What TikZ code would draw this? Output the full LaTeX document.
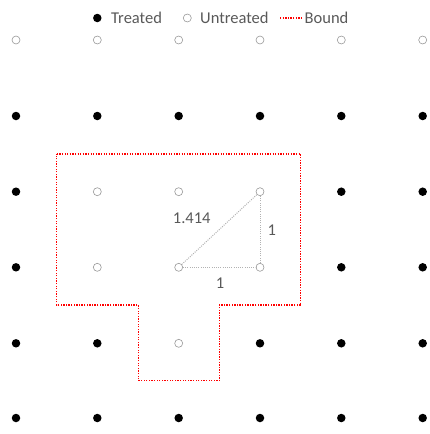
\documentclass[tikz,border=0pt]{standalone}
\usepackage{fontspec}
\setmainfont{Carlito}
\begin{document}
\begin{tikzpicture}[x=1pt,y=-1pt,
  treated/.style={circle,fill=black,inner sep=0pt,minimum size=8.5pt},
  untreated/.style={circle,draw=gray!80,line width=0.6pt,fill=white,inner sep=0pt,minimum size=8pt},
  bound/.style={draw=red,line width=1.3pt,dash pattern=on 1.3pt off 1.3pt},
  dist/.style={draw=gray!60,line width=1pt,dash pattern=on 1pt off 1.2pt},
  lbl/.style={text=black!65,font=\fontsize{16.5}{19}\selectfont,inner sep=1pt}]
\useasboundingbox (0,0) rectangle (429,434);
% bound
\draw[bound] (56.7,154) -- (300.7,154) -- (300.7,305) -- (219.3,305) -- (219.3,380.7)
  -- (138.3,380.7) -- (138.3,305) -- (56.7,305) -- cycle;
% grid
\def\xs{{16,97.3,178.7,260,341.3,422.7}}
\def\ys{{40,116,191.7,267.3,343.3,418}}
\def\fl{{0,0,0,0,0,0,1,1,1,1,1,1,1,0,0,0,1,1,1,0,0,0,1,1,1,1,0,1,1,1,1,1,1,1,1,1}}
\foreach \r in {1,...,6}{
  \foreach \c in {1,...,6}{
    \pgfmathsetmacro{\px}{\xs[\c-1]}
    \pgfmathsetmacro{\py}{\ys[\r-1]}
    \pgfmathtruncatemacro{\bit}{\fl[(\r-1)*6+\c-1]}
    \ifnum\bit=1
      \node[treated] (p\r\c) at (\px,\py) {};
    \else
      \node[untreated] (p\r\c) at (\px,\py) {};
    \fi
  }
}
% distance triangle
\draw[dist] (p43) -- (p44);
\draw[dist] (p44) -- (p34);
\draw[dist] (p43) -- (p34);
\node[lbl] (d1) at (191.7,218.3) {1.414};
\node[lbl] (d2) at (271.7,230) {1};
\node[lbl] (d3) at (220,283.3) {1};
% legend
\node[treated] (lt) at (97.3,18) {};
\node[lbl,anchor=west] (ltt) at (110,18) {Treated};
\node[untreated] (lu) at (187.3,18) {};
\node[lbl,anchor=west] (lut) at (199,18) {Untreated};
\coordinate (lb1) at (280,18);
\coordinate (lb2) at (302,18);
\draw[bound] (lb1) -- (lb2);
\node[lbl,anchor=west] (lbt) at (303.5,18) {Bound};
\end{tikzpicture}
\end{document}
